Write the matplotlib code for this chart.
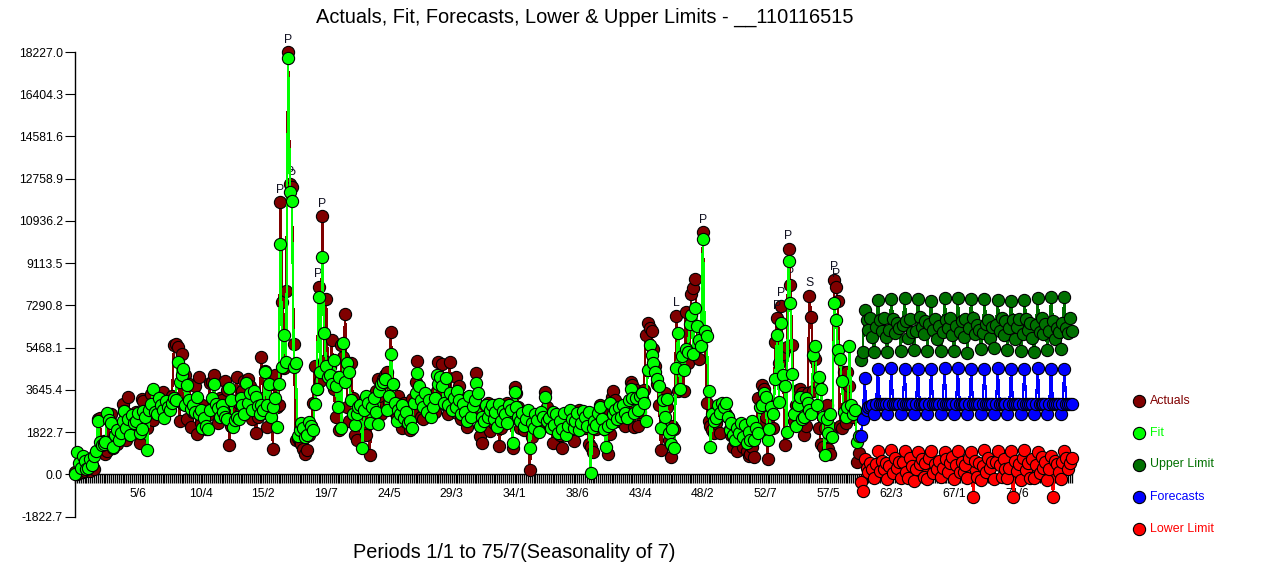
import matplotlib
matplotlib.use('Agg')
import matplotlib.pyplot as plt
from matplotlib.lines import Line2D
import numpy as np

# one row = one season of 7 periods
actuals = [
    120, 40, 70, 220, 90, 160, 350,
    280, 130, 420, 240, 950, 2380, 2450,
    1050, 1450, 900, 1000, 2480, 2600, 1150,
    1700, 1300, 1750, 1900, 3050, 2750, 1500,
    3350, 2500, 1950, 2100, 2700, 1950, 1350,
    3250, 3150, 2450, 2000, 2650, 3450, 2350,
    2750, 3350, 2600, 2850, 3550, 2900, 3050,
    3050, 3150, 3400, 5600, 5650, 5500, 2300,
    5200, 3050, 4300, 2400, 3900, 2050, 2700,
    3800, 1750, 4200, 2200, 3000, 2650, 1950,
    2550, 3950, 4000, 4300, 2800, 2200, 3300,
    3200, 2850, 4050, 3650, 1250, 2100, 2400,
    2650, 4200, 3100, 2700, 3600, 4050, 2950,
    4100, 3800, 2400, 3350, 1780, 2500, 3000,
    5080, 3300, 4450, 2050, 2600, 3900, 1100,
    4300, 2900, 3000, 11740, 7440, 4600, 7920,
    18227, 12530, 12400, 5630, 1500, 1560, 1400,
    1300, 1100, 880, 1050, 1700, 2100, 3100,
    4700, 3700, 8090, 4050, 11150, 4900, 7570,
    4300, 4650, 5800, 3700, 2500, 4200, 1900,
    5600, 5070, 6940, 2900, 2300, 4800, 3300,
    1700, 1500, 2200, 3000, 2700, 2400, 1700,
    3200, 850, 3000, 2900, 3600, 4100, 3400,
    2600, 4100, 4300, 4400, 3100, 6160, 3900,
    2700, 2500, 3400, 2850, 2000, 3100, 2250,
    2900, 1900, 3250, 2700, 4000, 4910, 3700,
    2500, 2400, 3100, 2850, 2800, 3000, 3300,
    2700, 3600, 4850, 4000, 4750, 3900, 3000,
    2600, 4870, 3200, 3300, 4200, 2650, 3800,
    2400, 3300, 3200, 2040, 3000, 2850, 3100,
    3000, 4380, 2850, 1650, 1360, 2700, 2300,
    3100, 1880, 2800, 2200, 3000, 2500, 1230,
    2000, 2800, 2900, 3100, 2350, 2500, 1130,
    3780, 3500, 2900, 2000, 2700, 1900, 2500,
    2100, 190, 1600, 2250, 2500, 1950, 2400,
    2000, 2250, 3550, 2900, 2200, 2350, 1360,
    2000, 2300, 2450, 1700, 1130, 2100, 2500,
    2200, 1800, 2700, 1440, 2500, 2350, 2800,
    2650, 2250, 2000, 2100, 1300, 1200, 970,
    2300, 1950, 2600, 3000, 2700, 2300, 1900,
    880, 1750, 3350, 3600, 3200, 2300, 2800,
    2450, 2700, 2100, 2500, 2950, 3990, 3850,
    2050, 3650, 2100, 2700, 3300, 3640, 6020,
    6550, 6300, 6200, 5400, 4700, 3900, 3000,
    1060, 2000, 3510, 2900, 1500, 760, 2100,
    1950, 6840, 3600, 4600, 5200, 3600, 7010,
    4800, 5300, 7790, 8050, 8430, 5500, 5000,
    5600, 10460, 6100, 3080, 2300, 2100, 1900,
    1800, 2200, 2500, 1800, 2900, 3000, 2600,
    2500, 1950, 1700, 1200, 1450, 1000, 1700,
    1700, 1200, 1550, 1000, 800, 900, 1200,
    750, 1850, 3300, 2200, 3860, 3700, 2500,
    670, 3000, 2900, 2000, 5700, 6750, 4800,
    7270, 5200, 1270, 5500, 9730, 8170, 5590,
    2300, 3000, 3650, 3700, 3500, 1700, 2100,
    3500, 7700, 6790, 3600, 5000, 4000, 2000,
    1300, 1200, 2000, 3000, 1100, 900, 2000,
    8390, 8090, 7480, 2100, 2000, 4400, 2200,
    4400, 3800, 2700, 2500, 2700, 540, 920,
]

fit = [
    40, 960, 500, 300, 780, 600, 250,
    260, 650, 420, 780, 1000, 2290, 1400,
    1250, 1300, 1400, 2650, 2330, 2200, 1170,
    1700, 1900, 1500, 1800, 2300, 2720, 2000,
    2400, 1700, 2550, 2200, 2300, 2650, 1800,
    1950, 2750, 2500, 1060, 2800, 3050, 3690,
    2700, 2600, 3300, 3000, 2800, 2430, 3150,
    2900, 2800, 3100, 3300, 3200, 4860, 4000,
    4310, 4560, 3000, 3880, 3200, 2840, 3000,
    2700, 3350, 2600, 2800, 2000, 2450, 2100,
    1950, 2800, 3300, 3900, 3050, 2850, 2500,
    3000, 2700, 2500, 2400, 3730, 3200, 2050,
    2350, 2500, 2390, 3300, 3000, 2600, 3950,
    3100, 3500, 2800, 3600, 3350, 2950, 2600,
    3000, 2800, 4430, 3000, 3900, 2500, 2900,
    3300, 2040, 3920, 9940, 4640, 6020, 4850,
    17970, 12190, 11810, 4650, 4810, 1650, 1900,
    2200, 2000, 1600, 1700, 2250, 2100, 1900,
    3050, 3700, 7670, 4400, 9380, 6100, 4700,
    4200, 4300, 3900, 4950, 3800, 2900, 4200,
    2000, 5670, 3990, 4820, 4430, 3200, 2600,
    2140, 2600, 2900, 3000, 1130, 2800, 3400,
    3100, 2200, 2900, 3300, 2700, 2170, 3600,
    3900, 4000, 4100, 2800, 3400, 5180, 3900,
    3100, 2300, 2800, 2600, 3000, 2450, 2700,
    2200, 2300, 2000, 3100, 3500, 4370, 3800,
    3200, 2900, 3500, 2700, 3200, 2500, 2900,
    3300, 4300, 3900, 4200, 3800, 3100, 4150,
    3000, 3500, 2800, 3300, 2900, 3600, 3200,
    2600, 3050, 2700, 2300, 3400, 2500, 2950,
    3200, 3950, 3500, 2100, 2500, 2300, 3000,
    2500, 2800, 3000, 2400, 2700, 2050, 3050,
    2300, 2750, 2600, 2200, 3000, 2800, 1360,
    3550, 2900, 2500, 2300, 2650, 2100, 2400,
    2800, 1140, 2200, 2000, 2600, 2350, 1850,
    2700, 2500, 3350, 2300, 2450, 2000, 2700,
    2150, 2600, 1800, 2300, 1950, 2650, 1700,
    2100, 2800, 2400, 2000, 2300, 2650, 1900,
    2200, 2750, 2500, 2100, 2700, 80, 2000,
    2300, 2150, 2650, 2900, 2400, 1950, 1200,
    2100, 3100, 2200, 2600, 2800, 2400, 2900,
    2500, 3000, 2650, 2450, 3200, 3700, 3300,
    2650, 3300, 2800, 3400, 3500, 3100, 2300,
    4500, 5600, 5150, 4800, 4400, 4100, 3800,
    2000, 3200, 2500, 3250, 1800, 1300, 1950,
    1130, 4590, 6100, 3700, 5100, 4500, 5400,
    5300, 6500, 6900, 5200, 7180, 6400, 5800,
    5540, 10160, 6190, 5970, 3600, 1180, 2600,
    2300, 2450, 3000, 2650, 3100, 2900, 3100,
    2500, 1900, 2200, 1700, 1500, 2000, 1800,
    2200, 1600, 2150, 1350, 1850, 1500, 2300,
    1500, 2000, 1800, 2900, 3000, 3500, 3350,
    1500, 1950, 2900, 2600, 4100, 6020, 3130,
    6530, 4300, 3800, 1830, 9210, 7400, 4340,
    2600, 2100, 3000, 3350, 2400, 2500, 3300,
    3100, 2800, 2600, 5160, 5540, 3000, 4200,
    3700, 2500, 840, 2400, 1790, 2600, 1600,
    7400, 6660, 5370, 4980, 4030, 2700, 2500,
    2900, 5540, 3000, 2600, 2800, 1400, 1650,
]

upper = [
    4940, 5300, 7095, 6660, 6230, 6740, 5950,
    5300, 6350, 7530, 6650, 6200, 6750, 5950,
    5300, 6250, 7560, 6720, 6100, 6550, 6300,
    5320, 6450, 7600, 6600, 5900, 6700, 6150,
    5350, 6200, 7560, 6800, 6350, 6050, 6600,
    5330, 6500, 7480, 6250, 6700, 5850, 6400,
    5330, 6150, 7600, 6650, 6300, 6750, 6000,
    5330, 6400, 7600, 6150, 6600, 5950, 6700,
    5260, 6300, 7560, 6750, 6050, 6450, 6250,
    5400, 6100, 7570, 6500, 6650, 5900, 6350,
    5450, 6450, 7530, 6200, 6750, 6000, 6600,
    5380, 6300, 7500, 6650, 5850, 6350, 6700,
    5330, 6050, 7530, 6700, 6250, 6550, 5900,
    5300, 6450, 7600, 6150, 6750, 6050, 6500,
    5380, 6200, 7640, 6600, 5850, 6300, 6150,
    5400, 6550, 7640, 6300, 6100, 6750, 6200,
]

forecasts = [
    1660, 2395, 4165, 2780, 2915, 2960, 3000,
    2600, 3020, 4560, 3030, 3040, 3040, 3040,
    2600, 3030, 4580, 3040, 3040, 3050, 3040,
    2590, 3040, 4570, 3040, 3050, 3040, 3050,
    2600, 3040, 4570, 3040, 3040, 3050, 3050,
    2590, 3040, 4570, 3050, 3040, 3050, 3050,
    2600, 3050, 4580, 3040, 3050, 3050, 3050,
    2590, 3040, 4580, 3050, 3050, 3050, 3050,
    2600, 3050, 4570, 3050, 3050, 3060, 3050,
    2590, 3050, 4570, 3050, 3060, 3050, 3050,
    2600, 3050, 4580, 3050, 3060, 3060, 3050,
    2600, 3050, 4570, 3060, 3050, 3060, 3050,
    2600, 3060, 4570, 3050, 3060, 3060, 3060,
    2590, 3060, 4580, 3060, 3060, 3050, 3060,
    2600, 3060, 4570, 3060, 3060, 3060, 3060,
    2600, 3060, 4570, 3060, 3060, 3060, 3060,
]

lower = [
    -320, -712, 655, 300, 120, 500, 250,
    -150, 450, 1000, 150, 600, 250, 500,
    -200, 350, 1050, 50, 700, 300, 550,
    -150, 550, 1000, 100, -150, 700, 350,
    -300, 250, 950, 450, 650, -100, 500,
    -200, 700, 1000, 50, 450, 250, 600,
    -100, 300, 950, 650, 100, 500, 750,
    -200, 400, 1000, 100, 550, 100, 400,
    -150, 700, 950, -970, 600, -100, 500,
    -250, 350, 1050, 100, 700, 300, 550,
    -200, 550, 1000, 400, -100, 650, 250,
    -150, 300, 1000, -970, 600, 150, 450,
    -250, 700, 1050, 200, 500, -150, 650,
    -150, 400, 950, 50, 750, 300, 550,
    -250, 250, 800, -970, 600, 450, 100,
    -200, 550, 1000, 700, 250, 500, 700,
]

peak_periods = [109, 113, 114, 115, 129, 131, 317, 331, 370, 372, 376, 377, 387, 400, 401]
peak_labels = ['P', 'P', 'P', 'P', 'P', 'P', 'L', 'P', 'P', 'P', 'P', 'P', 'S', 'P', 'P']

y_ticks = [-1822.7, 0.0, 1822.7, 3645.4, 5468.1, 7290.8, 9113.5, 10936.2, 12758.9, 14581.6, 16404.3, 18227.0]
y_tick_labels = ['-1822.7', '0.0', '1822.7', '3645.4', '5468.1', '7290.8', '9113.5', '10936.2',
                 '12758.9', '14581.6', '16404.3', '18227.0']
x_ticks = [34, 67, 100, 133, 166, 199, 232, 265, 298, 331, 364, 397, 430, 463, 496]
x_tick_labels = ['5/6', '10/4', '15/2', '19/7', '24/5', '29/3', '34/1', '38/6', '43/4', '48/2',
                 '52/7', '57/5', '62/3', '67/1', '71/6']

legend_names = ['Actuals', 'Fit', 'Upper Limit', 'Forecasts', 'Lower Limit']
legend_colors = ['#800000', '#00FF00', '#007000', '#0000FF', '#FF0000']

W, H = 1268, 566
plt.rcParams['font.family'] = ['Liberation Sans', 'DejaVu Sans']

fig = plt.figure(figsize=(W / 100, H / 100), dpi=100)
ax = fig.add_axes([75 / W, (H - 516.7) / H, 997 / W, 464.7 / H])

hist_x = np.arange(1, len(actuals) + 1)
fc_x = np.arange(len(actuals) + 1, len(actuals) + len(forecasts) + 1)
series = [(hist_x, actuals), (hist_x, fit), (fc_x, upper), (fc_x, forecasts), (fc_x, lower)]

# reference has no antialiasing on the marks
for n, (xs, ys) in enumerate(series):
    ax.plot(xs, ys, color=legend_colors[n], lw=0.9, marker='o', ms=8.8, mfc=legend_colors[n],
            mec='black', mew=0.8, clip_on=False, zorder=4 + n, antialiased=False)

# letters sit just above the flagged actuals, under the fit
for p, s in zip(peak_periods, peak_labels):
    ax.annotate(s, (p, actuals[p - 1]), xytext=(0, 9), textcoords='offset points', ha='center',
                va='center', fontsize=8.8, color='#101020', zorder=4.5)

ax.set_xlim(1, 525)
ax.set_ylim(-1822.7, 18227)
ax.spines['top'].set_visible(False)
ax.spines['right'].set_visible(False)
ax.spines['bottom'].set_position(('data', 0))
ax.spines['left'].set_linewidth(1.0)
ax.spines['bottom'].set_linewidth(1.0)

ax.set_yticks(y_ticks)
ax.set_yticklabels(y_tick_labels, fontsize=8.8)
ax.tick_params(axis='y', length=7.2, width=0.8, pad=1.5)
ax.set_xticks(x_ticks)
ax.set_xticklabels(x_tick_labels, fontsize=8.8)
ax.set_xticks(np.arange(1, 526), minor=True)
ax.tick_params(axis='x', which='both', length=6.8, width=0.95, pad=3)

fig.text(585 / W, 1 - 17 / H, 'Actuals, Fit, Forecasts, Lower & Upper Limits - __110116515',
         fontsize=14.4, ha='center', va='center')
fig.text(514 / W, 1 - 553 / H, 'Periods 1/1 to 75/7(Seasonality of 7)',
         fontsize=14.3, ha='center', va='center')

for n, name in enumerate(legend_names):
    yy = 1 - (400.5 + 32 * n) / H
    fig.add_artist(Line2D([1139 / W], [yy], transform=fig.transFigure, marker='o', ms=8.8,
                          mfc=legend_colors[n], mec='black', mew=0.8, ls='none', antialiased=False))
    fig.text(1150 / W, yy, name, color=legend_colors[n], fontsize=8.9, ha='left', va='center')

fig.savefig('out.png', dpi=100)
